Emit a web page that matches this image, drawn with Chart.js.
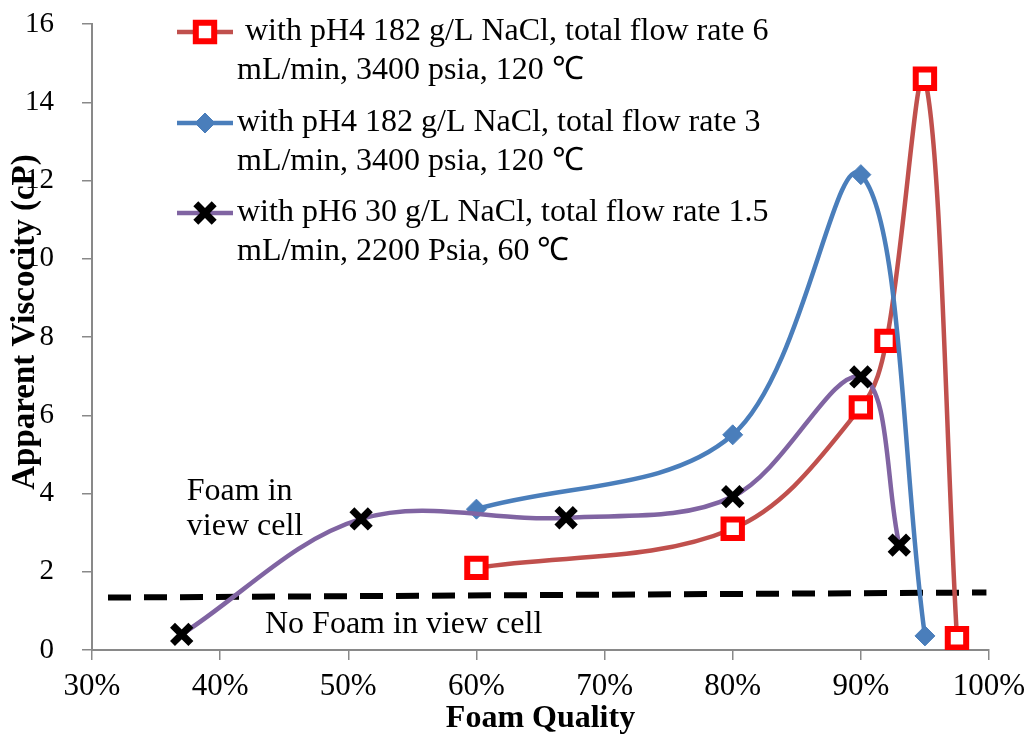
<!DOCTYPE html>
<html>
<head>
<meta charset="utf-8">
<title>Apparent Viscosity vs Foam Quality</title>
<script src="https://cdn.jsdelivr.net/npm/chart.js@4.4.1/dist/chart.umd.min.js"></script>
<style>
  html, body { margin: 0; padding: 0; background: #fff; }
  #chart { display: block; }
</style>
</head>
<body>
<canvas id="chart" width="1031" height="738"></canvas>
<script>
// ---- Data ----
const seriesLabels = [
  ' with pH4 182 g/L NaCl, total flow rate 6\nmL/min, 3400 psia, 120 \u2103',
  'with pH4 182 g/L NaCl, total flow rate 3\nmL/min, 3400 psia, 120 \u2103',
  'with pH6 30 g/L NaCl, total flow rate 1.5\nmL/min, 2200 Psia, 60 \u2103'
];

// foam quality (%) and apparent viscosity (cP)
const qualityFlow6 = [60, 80, 90, 92, 95, 97.5];
const viscFlow6 = [2.1, 3.1, 6.2, 7.9, 14.6, 0.3];

const qualityFlow3 = [60, 80, 90, 95];
const viscFlow3 = [3.6, 5.5, 12.15, 0.36];

const qualityFlow15 = [37, 51, 67, 80, 90, 93];
const viscFlow15 = [0.4, 3.35, 3.38, 3.92, 6.98, 2.68];

// foam / no foam boundary
const boundaryQuality = [31.25, 99.8];
const boundaryVisc = [1.34, 1.47];

const xTicks = [30, 40, 50, 60, 70, 80, 90, 100];
const yTicks = [0, 2, 4, 6, 8, 10, 12, 14, 16];

const FONT = '"Liberation Serif", "Times New Roman", serif';
const AXIS_GRAY = '#898989';

function toPoints(xs, ys) {
  return xs.map((x, i) => ({ x: x, y: ys[i] }));
}

// ---- Legend + notes drawn on the canvas ----
function drawMarker(ctx, ds, x, y) {
  const r = ds.pointRadius;
  ctx.save();
  ctx.lineWidth = ds.pointBorderWidth;
  ctx.strokeStyle = ds.pointBorderColor;
  ctx.fillStyle = ds.pointBackgroundColor;
  ctx.beginPath();
  if (ds.pointStyle === 'rect') {
    const s = Math.SQRT1_2 * r;
    ctx.rect(x - s, y - s, 2 * s, 2 * s);
    ctx.fill();
    ctx.stroke();
  } else if (ds.pointStyle === 'rectRot') {
    ctx.moveTo(x - r, y);
    ctx.lineTo(x, y - r);
    ctx.lineTo(x + r, y);
    ctx.lineTo(x, y + r);
    ctx.closePath();
    ctx.fill();
    ctx.stroke();
  } else {
    const o = Math.SQRT1_2 * r;
    ctx.moveTo(x - o, y - o);
    ctx.lineTo(x + o, y + o);
    ctx.moveTo(x + o, y - o);
    ctx.lineTo(x - o, y + o);
    ctx.stroke();
  }
  ctx.restore();
}

const legendRows = [32, 123, 213];   // y of the first text line of each entry
const LEGEND_LINE_GAP = 39;

const notesPlugin = {
  id: 'notes',
  afterDatasetsDraw(chart) {
    const ctx = chart.ctx;
    const xs = chart.scales.x;
    const ys = chart.scales.y;

    ctx.save();
    ctx.fillStyle = '#000';
    ctx.font = '32px ' + FONT;
    ctx.textBaseline = 'alphabetic';
    ctx.textAlign = 'left';

    // region notes
    ctx.fillText('Foam in', xs.getPixelForValue(37.4), ys.getPixelForValue(3.83));
    ctx.fillText('view cell', xs.getPixelForValue(37.4), ys.getPixelForValue(2.94));
    ctx.fillText('No Foam in view cell', xs.getPixelForValue(43.5), ys.getPixelForValue(0.43));

    // legend
    chart.data.datasets.slice(0, 3).forEach((ds, i) => {
      const y = legendRows[i];
      ctx.save();
      ctx.strokeStyle = ds.borderColor;
      ctx.lineWidth = ds.borderWidth;
      ctx.beginPath();
      ctx.moveTo(177, y);
      ctx.lineTo(233, y);
      ctx.stroke();
      ctx.restore();
      drawMarker(ctx, ds, 205, y);

      ctx.textBaseline = 'middle';
      ds.label.split('\n').forEach((line, j) => {
        ctx.fillText(line, 237, y + j * LEGEND_LINE_GAP);
      });
    });

    // y axis title, drawn over the tick labels
    ctx.font = 'bold 33px ' + FONT;
    ctx.textAlign = 'center';
    ctx.textBaseline = 'middle';
    ctx.translate(25, 322);
    ctx.rotate(-Math.PI / 2);
    ctx.fillText('Apparent Viscocity (cP)', 0, 0);
    ctx.restore();
  }
};

// ---- Chart ----
const lineBase = {
  fill: false,
  tension: 0.35,
  borderWidth: 4.5,
  borderCapStyle: 'round',
  pointHoverRadius: 0
};

new Chart(document.getElementById('chart'), {
  type: 'line',
  data: {
    datasets: [
      Object.assign({}, lineBase, {
        label: seriesLabels[0],
        data: toPoints(qualityFlow6, viscFlow6),
        borderColor: '#C0504D',
        pointStyle: 'rect',
        pointRadius: 13,
        pointBorderWidth: 6,
        pointBorderColor: '#FF0000',
        pointBackgroundColor: '#FFFFFF',
        order: 3
      }),
      Object.assign({}, lineBase, {
        label: seriesLabels[1],
        data: toPoints(qualityFlow3, viscFlow3),
        borderColor: '#4A7EBB',
        pointStyle: 'rectRot',
        pointRadius: 10,
        pointBorderWidth: 1,
        pointBorderColor: '#4A7EBB',
        pointBackgroundColor: '#4A7EBB',
        order: 2
      }),
      Object.assign({}, lineBase, {
        label: seriesLabels[2],
        data: toPoints(qualityFlow15, viscFlow15),
        borderColor: '#8064A2',
        pointStyle: 'crossRot',
        pointRadius: 13,
        pointBorderWidth: 7,
        pointBorderColor: '#000000',
        pointBackgroundColor: '#000000',
        order: 1
      }),
      {
        label: 'boundary',
        data: toPoints(boundaryQuality, boundaryVisc),
        borderColor: '#000000',
        borderWidth: 6,
        borderDash: [23, 13],
        pointRadius: 0,
        tension: 0,
        order: 4
      }
    ]
  },
  options: {
    responsive: false,
    animation: false,
    events: [],
    layout: { padding: { top: 24, right: 42, left: 0, bottom: 0 } },
    plugins: {
      legend: { display: false },
      tooltip: { enabled: false }
    },
    scales: {
      x: {
        type: 'linear',
        min: xTicks[0],
        max: xTicks[xTicks.length - 1],
        afterFit: s => {
          s.height = 88;
          s.paddingLeft = 0;
          s.paddingRight = 0;
        },
        afterBuildTicks: s => { s.ticks = xTicks.map(v => ({ value: v })); },
        ticks: {
          color: '#000',
          font: { family: FONT, size: 31 },
          padding: 8,
          maxRotation: 0,
          callback: v => v + '%'
        },
        grid: { drawOnChartArea: false, drawTicks: true, tickLength: 10, color: AXIS_GRAY, lineWidth: 1.5 },
        border: { display: true, color: AXIS_GRAY, width: 2 },
        title: {
          display: true,
          text: 'Foam Quality',
          color: '#000',
          font: { family: FONT, size: 32, weight: 'bold' },
          padding: { top: -9, bottom: 0 }
        }
      },
      y: {
        type: 'linear',
        min: yTicks[0],
        max: yTicks[yTicks.length - 1],
        afterFit: s => {
          s.width = 92;
          s.paddingTop = 0;
          s.paddingBottom = 0;
        },
        afterBuildTicks: s => { s.ticks = yTicks.map(v => ({ value: v })); },
        ticks: {
          color: '#000',
          font: { family: FONT, size: 29 },
          padding: 28
        },
        grid: { drawOnChartArea: false, drawTicks: true, tickLength: 10, color: AXIS_GRAY, lineWidth: 1.5 },
        border: { display: true, color: AXIS_GRAY, width: 2 }
      }
    }
  },
  plugins: [notesPlugin]
});
</script>
</body>
</html>
